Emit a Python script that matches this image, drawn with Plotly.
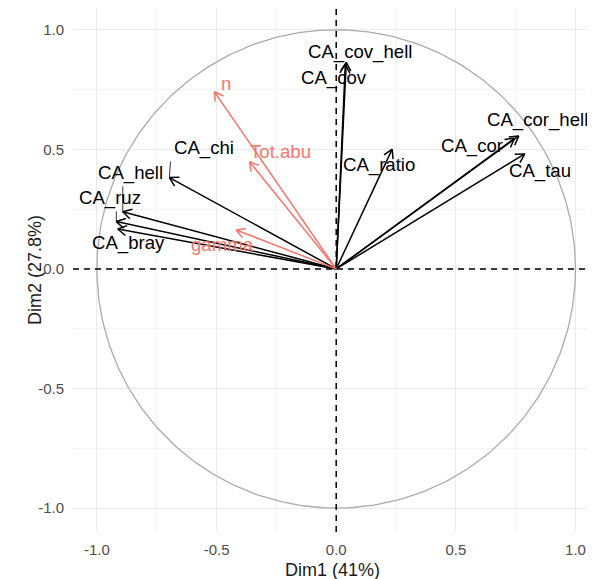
import numpy as np
import plotly.graph_objects as go

# ---------------- data ----------------
var_names = ["CA_cov_hell", "CA_cov", "CA_ratio", "CA_cor_hell", "CA_cor", "CA_tau",
             "CA_chi", "CA_hell", "CA_ruz", "CA_bray"]
var_dim1 = [0.042, 0.038, 0.234, 0.763, 0.745, 0.788, -0.697, -0.892, -0.919, -0.913]
var_dim2 = [0.864, 0.855, 0.501, 0.556, 0.546, 0.481, 0.382, 0.239, 0.198, 0.167]

sup_names = ["n", "Tot.abu", "gamma"]
sup_dim1 = [-0.509, -0.362, -0.418]
sup_dim2 = [0.741, 0.448, 0.163]

x_ticks = [-1.0, -0.5, 0.0, 0.5, 1.0]
y_ticks = [-1.0, -0.5, 0.0, 0.5, 1.0]
x_title = "Dim1 (41%)"
y_title = "Dim2 (27.8%)"

# label offsets (relative to arrow tip, data units) – layout only
var_label_off = [(0.057, 0.045), (-0.049, -0.057), (-0.054, -0.065), (0.080, 0.068),
                 (-0.178, -0.031), (0.065, -0.073), (0.145, 0.123), (0.032, 0.162),
                 (-0.025, 0.098), (0.046, -0.059)]
var_leader = [True, True, False, False, False, False, True, True, True, False]
sup_label_off = [(0.049, 0.033), (0.128, 0.043), (-0.056, -0.062)]

BLACK = "#000000"
RED = "#F8766D"
FS = 18.6
FONT = "Liberation Sans, Arial"
SCALE = 239.3  # px per data unit (for arrowhead size)


def arrow_xy(xs, ys):
    X, Y = [], []
    hl = 10 / SCALE
    for x, y in zip(xs, ys):
        X += [0, x, None]
        Y += [0, y, None]
        ang = np.arctan2(y, x)
        for d in (np.pi / 6, -np.pi / 6):
            a = ang + np.pi + d
            X += [x + hl * np.cos(a), x, None]
            Y += [y + hl * np.sin(a), y, None]
    return X, Y


fig = go.Figure()

# circle
t = np.linspace(0, 2 * np.pi, 361)
fig.add_trace(go.Scatter(x=np.cos(t), y=np.sin(t), mode="lines",
                         line=dict(color="#ababab", width=1.3), hoverinfo="skip",
                         showlegend=False))

bx, by = arrow_xy(var_dim1, var_dim2)
fig.add_trace(go.Scatter(x=bx, y=by, mode="lines", line=dict(color=BLACK, width=1.5),
                         hoverinfo="skip", showlegend=False))
rx, ry = arrow_xy(sup_dim1, sup_dim2)
fig.add_trace(go.Scatter(x=rx, y=ry, mode="lines", line=dict(color=RED, width=1.5),
                         hoverinfo="skip", showlegend=False))

# labels + leader segments
lx, ly = [], []
for name, x, y, (dx, dy), lead in zip(var_names, var_dim1, var_dim2, var_label_off, var_leader):
    cx, cy = x + dx, y + dy
    fig.add_annotation(x=cx, y=cy, text=name, showarrow=False,
                       font=dict(size=FS, color=BLACK, family=FONT))
    if lead:
        hw = (len(name) * 0.55 * FS / 2 + 3) / SCALE
        hh = (FS * 0.55 + 3) / SCALE
        px = min(max(x, cx - hw), cx + hw)
        py = min(max(y, cy - hh), cy + hh)
        lx += [x, px, None]
        ly += [y, py, None]
fig.add_trace(go.Scatter(x=lx, y=ly, mode="lines", line=dict(color=BLACK, width=0.8),
                         hoverinfo="skip", showlegend=False))

for name, x, y, (dx, dy) in zip(sup_names, sup_dim1, sup_dim2, sup_label_off):
    fig.add_annotation(x=x + dx, y=y + dy, text=name, showarrow=False,
                       font=dict(size=FS, color=RED, family=FONT))

# dashed axes
fig.add_shape(type="line", x0=0, x1=0, y0=0, y1=1, xref="x", yref="paper",
              line=dict(color=BLACK, width=1.5, dash="6px,5px"), layer="above")
fig.add_shape(type="line", x0=0, x1=1, y0=0, y1=0, xref="paper", yref="y",
              line=dict(color=BLACK, width=1.5, dash="6px,5px"), layer="above")

# axis titles
fig.add_annotation(x=0.5, y=0, xref="paper", yref="paper", yanchor="middle",
                   yshift=-38, text=x_title, showarrow=False,
                   font=dict(size=18, color="#1a1a1a", family=FONT))
fig.add_annotation(x=0, y=0.5, xref="paper", yref="paper", xanchor="center",
                   xshift=-38, text=y_title, textangle=-90, showarrow=False,
                   font=dict(size=18, color="#1a1a1a", family=FONT))

axis_common = dict(
    showgrid=True, gridcolor="#ebebeb", gridwidth=1.1, zeroline=False,
    showline=False, ticks="", automargin=False,
    tickfont=dict(size=15, color="#4d4d4d", family=FONT),
    minor=dict(showgrid=True, gridcolor="#f3f3f3", gridwidth=0.6, dtick=0.25),
    dtick=0.5,
)
fig.update_xaxes(**axis_common, range=[-1.1, 1.069], tickvals=x_ticks,
                 ticktext=[f"{v:.1f}" for v in x_ticks], ticklabelstandoff=7)
fig.update_yaxes(**axis_common, range=[-1.1, 1.091], tickvals=y_ticks,
                 ticktext=[f"{v:.1f}" for v in y_ticks], ticklabelstandoff=8)

# page body has an 8px margin, so the figure is sized/offset to compensate
fig.update_layout(width=587, height=571, margin=dict(l=65, r=3, t=0, b=47),
                  plot_bgcolor="white", paper_bgcolor="white", showlegend=False)

fig.write_html("out.html")
